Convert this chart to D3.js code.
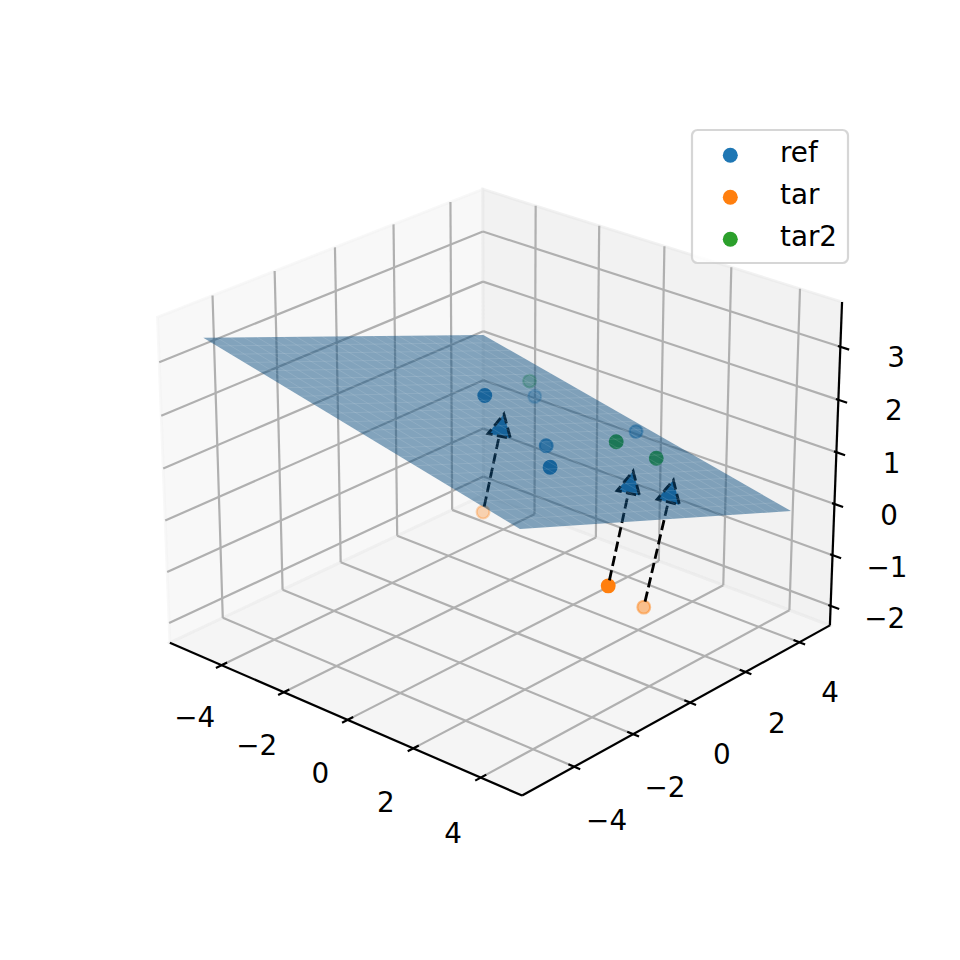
<!DOCTYPE html>
<html><head><meta charset="utf-8"><style>html,body{margin:0;background:#fff}text{font-family:"DejaVu Sans";font-size:27.8px;fill:#000}</style></head>
<body><svg id="chart" width="960" height="960" viewBox="0 0 960 960"></svg>
<script src="https://cdn.jsdelivr.net/npm/d3@7"></script>
<script>
// Data
const xLimits=[-5.7019,5.1985], yLimits=[-5.7233,5.1647], zLimits=[-2.3903,3.8360];
const xTicks=[-4,-2,0,2,4], yTicks=[-4,-2,0,2,4], zTicks=[-2,-1,0,1,2,3];
const seriesNames=["ref","tar","tar2"];
const seriesColors=["#1f77b4","#ff7f0e","#2ca02c"];
const refX=[-0.45,-1.72,0.21,1.19,0.90], refY=[-0.62,2.55,0.75,-0.24,3.14], refZ=[2.27,1.19,1.12,1.19,0.94];
const tarX=[-0.33,4.92,3.57], tarY=[-0.82,-2.59,0.28], tarZ=[0.13,0.50,-1.05];
const tar2X=[-1.91,2.15,2.78], tar2Y=[2.58,0.93,1.60], tar2Z=[1.44,1.59,1.25];
const arrowEndX=[-0.03,2.51,3.25], arrowEndY=[-0.44,1.11,1.65], arrowEndZ=[1.97,1.07,0.93];
const planeX=[-5.590,-4.547,4.175,3.968], planeY=[-4.438,3.887,4.868,-4.415], planeZ=[3.174,1.469,-0.300,1.808];

// Camera
const azim=-48.3315*Math.PI/180, elev=24.396*Math.PI/180, dist=10;
const W=[Math.cos(elev)*Math.cos(azim),Math.cos(elev)*Math.sin(azim),Math.sin(elev)];
const U=[-Math.sin(azim),Math.cos(azim),0];
const V=[-Math.sin(elev)*Math.cos(azim),-Math.sin(elev)*Math.sin(azim),Math.cos(elev)];
const dot=(a,b)=>a[0]*b[0]+a[1]*b[1]+a[2]*b[2];
const bx=d3.scaleLinear().domain(xLimits).range([-.595,.595]);
const by=d3.scaleLinear().domain(yLimits).range([-.595,.595]);
const bz=d3.scaleLinear().domain(zLimits).range([-.4417,.4417]);
const sx=d3.scaleLinear().domain([0,1]).range([501.319,501.319+4000.192]);
const sy=d3.scaleLinear().domain([0,1]).range([474.7493,474.7493-4032.3369]);
const box=(x,y,z)=>[bx(x),by(y),bz(z)];
const project=(x,y,z)=>{const P=box(x,y,z),D=dist-dot(W,P);return [sx(dot(U,P)/D),sy(dot(V,P)/D)];};
const depth=(x,y,z)=>-dot(W,box(x,y,z));

const svg=d3.select("#chart");
const line=d3.line();
const [x0,x1]=xLimits,[y0,y1]=yLimits,[z0,z1]=zLimits;

// Panes
const panes=[
 {c:[[x0,y0,z0],[x0,y1,z0],[x0,y1,z1],[x0,y0,z1]],g:242},
 {c:[[x0,y1,z0],[x1,y1,z0],[x1,y1,z1],[x0,y1,z1]],g:230},
 {c:[[x0,y0,z0],[x1,y0,z0],[x1,y1,z0],[x0,y1,z0]],g:236}];
svg.append("g").selectAll("path").data(panes).join("path")
 .attr("d",d=>line(d.c.map(c=>project(...c)))+"Z")
 .attr("fill",d=>`rgb(${d.g},${d.g},${d.g})`).attr("fill-opacity",.5)
 .attr("stroke",d=>`rgb(${d.g},${d.g},${d.g})`).attr("stroke-opacity",.5).attr("stroke-width",2.8);

// Grid
const gridSegs=[
 ...xTicks.flatMap(t=>[[[t,y0,z0],[t,y1,z0]],[[t,y1,z0],[t,y1,z1]]]),
 ...yTicks.flatMap(t=>[[[x0,t,z0],[x1,t,z0]],[[x0,t,z0],[x0,t,z1]]]),
 ...zTicks.flatMap(t=>[[[x0,y0,t],[x0,y1,t]],[[x0,y1,t],[x1,y1,t]]])];
svg.append("g").selectAll("path").data(gridSegs).join("path")
 .attr("d",d=>line(d.map(c=>project(...c)))).attr("fill","none").attr("stroke","#b0b0b0").attr("stroke-width",2.2);

// Axes lines and ticks
const axisSegs=[[[x0,y0,z0],[x1,y0,z0]],[[x1,y0,z0],[x1,y1,z0]],[[x1,y1,z0],[x1,y1,z1]],
 ...xTicks.map(t=>[[t,y0-.18,z0],[t,y0+.18,z0]]),
 ...yTicks.map(t=>[[x1-.17,t,z0],[x1+.17,t,z0]]),
 ...zTicks.map(t=>[[x1-.07,y1,t],[x1+.25,y1,t]])];
svg.append("g").selectAll("path").data(axisSegs).join("path")
 .attr("d",d=>line(d.map(c=>project(...c)))).attr("fill","none").attr("stroke","#000").attr("stroke-width",2.2);

// Tick labels
const fmt=v=>v<0?"\u2212"+(-v):String(v);
const labels=[
 ...xTicks.map(t=>({t,p:[t,y0-.9,z0-.75]})),
 ...yTicks.map(t=>({t,p:[x1+.94,t,z0-.75]})),
 ...zTicks.map(t=>({t,p:[x1+1.56,y1,t+.15]}))];
svg.append("g").selectAll("text").data(labels).join("text")
 .attr("x",d=>project(...d.p)[0]).attr("y",d=>project(...d.p)[1]+10).attr("text-anchor","middle").text(d=>fmt(d.t));

// Scatter with depth shading
const zipPts=(X,Y,Z)=>X.map((x,i)=>[x,Y[i],Z[i]]);
const groups=[zipPts(refX,refY,refZ),zipPts(tarX,tarY,tarZ),zipPts(tar2X,tar2Y,tar2Z)];
const scat=svg.append("g");
groups.forEach((pts,k)=>{
 const ds=pts.map(p=>depth(...p));
 const shade=d3.scaleLinear().domain(d3.extent(ds)).range([1,.3]);
 scat.append("g").selectAll("circle").data(pts).join("circle")
  .attr("cx",p=>project(...p)[0]).attr("cy",p=>project(...p)[1]).attr("r",6.4)
  .attr("fill",seriesColors[k]).attr("stroke",seriesColors[k]).attr("stroke-width",2.1)
  .attr("fill-opacity",p=>shade(depth(...p))).attr("stroke-opacity",p=>shade(depth(...p)));
});

// Arrows
const arrows=tarX.map((x,i)=>({a:project(x,tarY[i],tarZ[i]),b:project(arrowEndX[i],arrowEndY[i],arrowEndZ[i])}));
const arrowG=svg.append("g");
arrows.forEach(({a,b})=>{
 const L=Math.hypot(b[0]-a[0],b[1]-a[1]),d=[(b[0]-a[0])/L,(b[1]-a[1])/L],n=[-d[1],d[0]];
 const base=[b[0]-22.5*d[0],b[1]-22.5*d[1]];
 const start=[a[0]+5.6*d[0],a[1]+5.6*d[1]];
 arrowG.append("path").attr("d",line([start,base])).attr("fill","none").attr("stroke","#000").attr("stroke-width",2.8).attr("stroke-dasharray","10.3 4.4");
 const hl=[base[0]-11.5*n[0],base[1]-11.5*n[1]],hr=[base[0]+11.5*n[0],base[1]+11.5*n[1]];
 arrowG.append("path").attr("d",line([hl,b,hr])+"Z").attr("fill","#1f77b4").attr("stroke","#000").attr("stroke-width",2.8).attr("stroke-dasharray","10.3 4.4").attr("stroke-dashoffset",-10);
});

// Plane: translucent sheet and its faint mesh seams
const N=22;
const corner=(u,v)=>{const bi=A=>{const t=d3.interpolateNumber(A[0],A[3])(u),s=d3.interpolateNumber(A[1],A[2])(u);return d3.interpolateNumber(t,s)(v);};return [bi(planeX),bi(planeY),bi(planeZ)];};
const sheet=[[0,0],[1,0],[1,1],[0,1]].map(c=>project(...corner(c[0],c[1])));
const planeG=svg.append("g");
planeG.append("path").attr("d",line(sheet)+"Z").attr("fill","rgb(12,78,128)").attr("fill-opacity",.5);
const seams=d3.range(1,N).flatMap(i=>[[[i/N,0],[i/N,1]],[[0,i/N],[1,i/N]]]);
planeG.selectAll("path.seam").data(seams).join("path").attr("class","seam")
 .attr("d",s=>line(s.map(c=>project(...corner(c[0],c[1]))))).attr("fill","none")
 .attr("stroke","#fff").attr("stroke-opacity",.14).attr("stroke-width",.8);

// Legend
const lg=svg.append("g");
lg.append("rect").attr("x",692).attr("y",130).attr("width",156).attr("height",133).attr("rx",5.5)
 .attr("fill","#fff").attr("fill-opacity",.8).attr("stroke","#ccc").attr("stroke-opacity",.8).attr("stroke-width",2.2);
const rows=d3.scaleLinear().domain([0,2]).range([155.3,239.3]);
seriesNames.forEach((n,i)=>{
 lg.append("circle").attr("cx",730.3).attr("cy",rows(i)).attr("r",7.5).attr("fill",seriesColors[i]);
 lg.append("text").attr("x",780).attr("y",rows(i)+6.6).text(n);
});
</script></body></html>
